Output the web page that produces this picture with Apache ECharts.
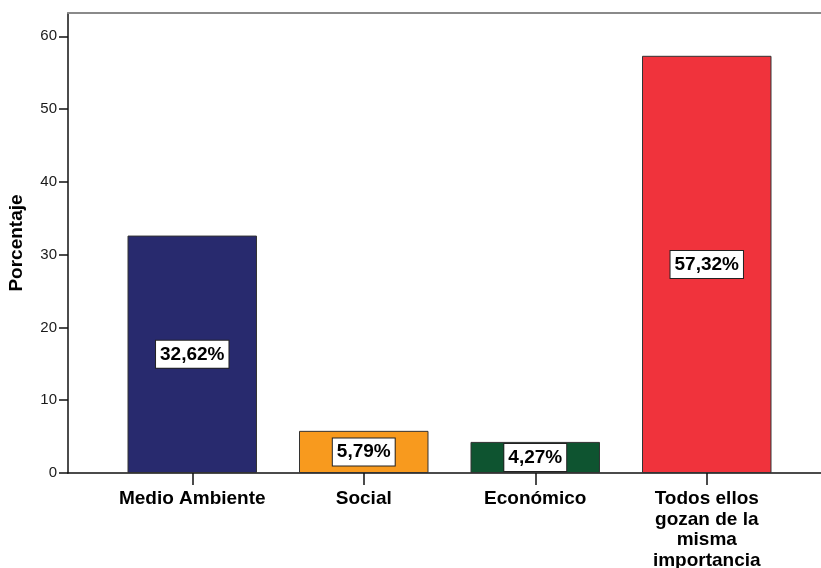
<!DOCTYPE html>
<html>
<head>
<meta charset="utf-8">
<script src="https://cdn.jsdelivr.net/npm/echarts@6/dist/echarts.min.js"></script>
<style>html,body{margin:0;padding:0;background:#fff}#c{width:821px;height:568px}</style>
</head>
<body>
<div id="c"></div>
<script>
const categories = ["Medio Ambiente", "Social", "Económico", "Todos ellos\ngozan de la\nmisma\nimportancia"];
const values = [32.62, 5.79, 4.27, 57.32];
const colors = ["#282A6E", "#F89A1E", "#0E5430", "#F0333C"];
const yTicks = [0, 10, 20, 30, 40, 50, 60];
const yMax = 63.2;
const yTitle = "Porcentaje";

const font = "'Liberation Sans', Arial, sans-serif";
const chart = echarts.init(document.getElementById('c'), null, {renderer: 'canvas'});
chart.setOption({
  animation: false,
  backgroundColor: '#fff',
  grid: [
    {left: 68, right: 0, top: 13, bottom: 95, containLabel: false, outerBoundsMode: 'none'},
    {left: 106.5, right: 28.5, top: 13, bottom: 95, containLabel: false, outerBoundsMode: 'none'}
  ],
  xAxis: [
    {gridIndex: 0, type: 'value', min: 0, max: 1, position: 'bottom',
     axisLine: {show: true, lineStyle: {color: '#111', width: 1.5}},
     axisTick: {show: false}, axisLabel: {show: false}, splitLine: {show: false}},
    {gridIndex: 0, type: 'value', min: 0, max: 1, position: 'top',
     axisLine: {show: true, lineStyle: {color: '#8a8a8a', width: 2}},
     axisTick: {show: false}, axisLabel: {show: false}, splitLine: {show: false}},
    {gridIndex: 1, type: 'category', data: categories, position: 'bottom',
     axisLine: {show: false},
     axisTick: {show: true, alignWithLabel: true, length: 12, lineStyle: {color: '#111', width: 1.5}},
     axisLabel: {color: '#000', fontFamily: font, fontWeight: 'bold', fontSize: 19, lineHeight: 20.5, margin: 16, interval: 0, align: 'center'}}
  ],
  yAxis: [
    {gridIndex: 0, type: 'value', min: 0, max: yMax,
     name: yTitle, nameLocation: 'middle', nameGap: 42,
     nameTextStyle: {color: '#000', fontFamily: font, fontWeight: 'bold', fontSize: 19},
     axisLine: {show: true, lineStyle: {color: '#111', width: 1.5}},
     axisTick: {show: true, length: 9, customValues: yTicks, lineStyle: {color: '#111', width: 1.5}},
     axisLabel: {color: '#1a1a1a', fontFamily: font, fontSize: 15, margin: 11, customValues: yTicks},
     splitLine: {show: false}},
    {gridIndex: 1, type: 'value', min: 0, max: yMax, show: false, splitLine: {show: false}}
  ],
  series: [{
    type: 'bar', xAxisIndex: 2, yAxisIndex: 1, barWidth: '75.5%',
    data: values.map((v, i) => ({value: v, itemStyle: {color: colors[i]}})),
    itemStyle: {borderColor: '#333', borderWidth: 1},
    label: {
      show: true, position: 'inside',
      formatter: p => p.value.toFixed(2).replace('.', ',') + '%',
      color: '#000', fontFamily: font, fontWeight: 'bold', fontSize: 19,
      backgroundColor: '#fff', borderColor: '#222', borderWidth: 1,
      padding: [3, 4, 2, 4], lineHeight: 22
    }
  }]
});
</script>
</body>
</html>
